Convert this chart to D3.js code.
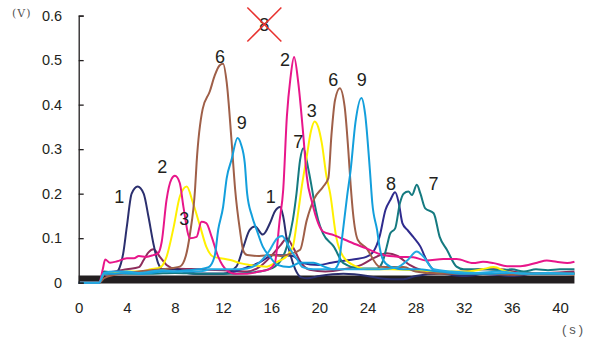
<!DOCTYPE html>
<html>
<head>
<meta charset="utf-8">
<script src="https://cdn.jsdelivr.net/npm/d3@7"></script>
<style>
  body { margin: 0; background: #fff; }
  text { font-family: "Liberation Sans", Arial, sans-serif; fill: #231f20; }
</style>
</head>
<body>
<div id="app"></div>
<script>
// x ticks (s) and y ticks (V)
const xTicks = [0, 4, 8, 12, 16, 20, 24, 28, 32, 36, 40]
const yTicks = [0, 0.1, 0.2, 0.3, 0.4, 0.5, 0.6]

// each series: [time s, voltage V]
const s1 = [[0,0],[1.7,0],[2.1,0.02],[3,0.02],[3.3,0.028],[3.7,0.066],[4.0,0.126],[4.4,0.2],[4.9,0.216],[5.4,0.2],[5.8,0.148],[6.2,0.089],[6.6,0.044],[7,0.03],[8,0.03],[9,0.025],[10,0.02],[11,0.02],[12,0.02],[13.1,0.036],[13.7,0.081],[14.2,0.118],[14.65,0.126],[15.3,0.108],[15.9,0.134],[16.3,0.16],[16.75,0.17],[17.0,0.148],[17.3,0.096],[17.6,0.062],[18.0,0.03],[18.5,0.012],[19,0.01],[20,0.015],[22,0.02],[24,0.015],[25,0.01],[26,0.008],[27,0.008],[28,0.015],[30,0.02],[32,0.015],[34,0.02],[36,0.015],[38,0.02],[40,0.02],[41.2,0.02]]
const s2 = [[0,0],[1.7,0],[2.0,0.03],[2.2,0.052],[2.6,0.045],[3.2,0.048],[4,0.055],[4.6,0.055],[5,0.06],[5.6,0.058],[6.2,0.062],[6.6,0.066],[6.9,0.092],[7.3,0.186],[7.7,0.232],[8.0,0.24],[8.4,0.224],[8.7,0.171],[9.25,0.1],[9.8,0.103],[10.2,0.137],[10.6,0.134],[11.05,0.103],[11.6,0.058],[12.3,0.028],[13,0.02],[14,0.02],[15,0.025],[15.8,0.03],[16.3,0.044],[16.7,0.14],[17.0,0.21],[17.3,0.373],[17.6,0.46],[17.9,0.507],[18.25,0.449],[18.67,0.33],[18.95,0.24],[19.4,0.18],[19.9,0.134],[20.3,0.115],[21.2,0.107],[22.5,0.092],[23.9,0.077],[25.3,0.062],[26.7,0.058],[27.8,0.057],[28.9,0.05],[30.3,0.053],[31.4,0.053],[32.8,0.044],[33.6,0.047],[34.5,0.044],[35.6,0.037],[36.7,0.037],[38.1,0.045],[38.9,0.05],[39.7,0.047],[40.6,0.044],[41.2,0.047]]
const s3 = [[0,0],[1.7,0],[2.1,0.02],[3,0.022],[4,0.025],[5,0.025],[6,0.03],[6.8,0.035],[7.3,0.058],[7.9,0.126],[8.4,0.193],[8.98,0.216],[9.5,0.179],[10.1,0.126],[10.6,0.081],[11.2,0.058],[11.8,0.055],[12.6,0.051],[13.4,0.044],[14.2,0.04],[15.6,0.036],[16.5,0.047],[17.3,0.06],[17.8,0.081],[18.2,0.15],[18.5,0.209],[18.95,0.283],[19.3,0.34],[19.6,0.362],[19.9,0.35],[20.2,0.314],[20.6,0.238],[20.9,0.2],[21.4,0.103],[22,0.058],[23.1,0.036],[24,0.03],[26,0.03],[28,0.028],[30,0.025],[32,0.025],[33.5,0.03],[34.5,0.035],[35.5,0.025],[37,0.02],[39,0.02],[41.2,0.02]]
const s4 = [[0,0],[1.7,0],[2.1,0.02],[3,0.025],[4,0.03],[5,0.035],[5.4,0.051],[5.8,0.068],[6.2,0.075],[6.75,0.058],[7.3,0.04],[8,0.032],[10,0.03],[12,0.028],[14,0.025],[15,0.035],[16,0.06],[16.8,0.085],[17.3,0.1],[17.8,0.08],[18.5,0.044],[19.2,0.029],[20.5,0.025],[22,0.03],[23.5,0.04],[24.5,0.055],[25.6,0.066],[26.5,0.06],[27.5,0.04],[28.5,0.028],[30,0.022],[32,0.025],[33.5,0.03],[35,0.03],[37,0.022],[39,0.022],[41.2,0.025]]
const s5 = [[0,0],[1.7,0],[2.1,0.022],[3,0.025],[4,0.025],[5,0.022],[6,0.025],[7,0.028],[8,0.025],[10,0.025],[11,0.03],[12,0.03],[13,0.03],[14,0.032],[15,0.045],[15.8,0.07],[16.5,0.1],[16.9,0.105],[17.3,0.09],[17.6,0.074],[18.1,0.055],[18.6,0.035],[19.5,0.03],[21,0.03],[23,0.03],[25,0.03],[26.5,0.035],[27.3,0.05],[28.1,0.07],[28.6,0.06],[29.5,0.03],[31,0.025],[33,0.022],[35,0.025],[37,0.02],[39,0.022],[41.2,0.02]]
const s6 = [[0,0],[1.7,0],[2.1,0.01],[3,0.018],[4,0.022],[5,0.025],[6,0.028],[7,0.03],[7.8,0.033],[8.4,0.036],[8.9,0.06],[9.25,0.11],[9.67,0.21],[9.8,0.27],[10.3,0.39],[10.9,0.43],[11.3,0.465],[11.7,0.488],[12.0,0.492],[12.3,0.45],[12.7,0.32],[13.0,0.21],[13.4,0.118],[13.7,0.07],[14,0.062],[15,0.06],[16,0.062],[16.8,0.06],[17.6,0.065],[18.4,0.074],[18.95,0.14],[19.6,0.19],[20.3,0.215],[20.75,0.235],[21.0,0.33],[21.3,0.41],[21.7,0.437],[22.1,0.396],[22.4,0.3],[22.6,0.22],[22.8,0.156],[23.2,0.096],[23.9,0.078],[25,0.036],[26,0.035],[27,0.035],[28,0.025],[30,0.02],[32,0.02],[34,0.02],[36,0.018],[38,0.02],[40,0.02],[41.2,0.018]]
const s7 = [[0,0],[1.7,0],[2.1,0.025],[3,0.022],[4,0.02],[6,0.02],[8,0.022],[10,0.02],[12,0.02],[14,0.022],[15,0.025],[16.3,0.036],[17.3,0.081],[17.8,0.141],[18.1,0.2],[18.4,0.276],[18.67,0.302],[19.1,0.253],[19.4,0.209],[19.5,0.193],[19.9,0.141],[20.3,0.111],[21.2,0.081],[22,0.044],[23.4,0.032],[24.8,0.032],[25.3,0.05],[25.6,0.081],[25.9,0.111],[26.3,0.122],[26.7,0.179],[27,0.2],[27.4,0.205],[27.7,0.197],[28.1,0.22],[28.4,0.2],[28.8,0.167],[29.5,0.156],[30.0,0.103],[30.6,0.074],[31.4,0.036],[32,0.03],[34,0.03],[35,0.028],[36,0.03],[37,0.025],[38,0.03],[39,0.028],[40,0.03],[41.2,0.03]]
const s8 = [[0,0],[1.7,0],[2.1,0.018],[3,0.02],[4,0.022],[6,0.025],[7,0.03],[8,0.03],[9,0.022],[10,0.02],[12,0.02],[13,0.025],[14,0.035],[15,0.045],[16.2,0.062],[17.8,0.06],[18.5,0.045],[20,0.04],[21,0.045],[22.5,0.051],[23.9,0.058],[24.5,0.07],[25,0.103],[25.5,0.164],[25.9,0.186],[26.3,0.203],[26.6,0.179],[26.9,0.134],[27.3,0.119],[27.8,0.103],[28.4,0.081],[28.9,0.051],[29.5,0.029],[31,0.02],[33,0.02],[35,0.018],[37,0.02],[39,0.02],[41.2,0.022]]
const s9 = [[0,0],[1.7,0],[2.1,0.02],[3,0.02],[4,0.022],[5,0.02],[6,0.022],[7,0.025],[8,0.025],[9,0.028],[10,0.03],[10.8,0.035],[11.3,0.06],[11.6,0.12],[12.0,0.17],[12.3,0.235],[12.7,0.276],[13.2,0.325],[13.5,0.31],[13.8,0.269],[14.0,0.2],[14.4,0.15],[14.8,0.118],[15.3,0.081],[15.9,0.058],[16.5,0.04],[17.5,0.035],[18.4,0.045],[19.5,0.045],[20.5,0.035],[21.2,0.03],[21.6,0.044],[21.9,0.103],[22.3,0.193],[22.6,0.253],[23.0,0.36],[23.5,0.415],[23.8,0.38],[24.2,0.253],[24.4,0.179],[24.8,0.118],[25,0.081],[25.3,0.051],[25.9,0.036],[27,0.03],[28,0.03],[30,0.025],[32,0.02],[34,0.02],[36,0.022],[38,0.02],[40,0.02],[41.2,0.02]]
// dark band of near-zero traces along the bottom
const band = [[0,0.007],[41.2,0.007]]

// peak labels: text, time, voltage
const labelText = ["1", "2", "3", "6", "9", "1", "2", "7", "3", "6", "9", "8", "7"]
const labelT = [3.37, 6.95, 8.78, 11.75, 13.55, 15.96, 17.15, 18.25, 19.37, 21.16, 23.52, 25.96, 29.48]
const labelV = [0.193, 0.261, 0.143, 0.508, 0.359, 0.193, 0.501, 0.317, 0.385, 0.456, 0.456, 0.222, 0.222]
// the crossed out "8"
const crossed = { text: "8", t: 15.43, v: 0.58 }

const series = [
  { data: s4, color: "#8e2d5c" },
  { data: s8, color: "#2f2b8e" },
  { data: s1, color: "#2b2f6e" },
  { data: s7, color: "#157a80" },
  { data: s3, color: "#fff000" },
  { data: s6, color: "#9f5f48" },
  { data: s2, color: "#e8168a" },
  { data: s9, color: "#139fdc" },
  { data: s5, color: "#22aae2" },
]

const width = 592, height = 338

const svg = d3.select("#app")
  .append("svg")
    .attr("width", width)
    .attr("height", height)

const x = d3.scaleLinear().domain([0, 40]).range([78.7, 560])
const y = d3.scaleLinear().domain([0, 0.6]).range([282.7, 15.6])

const line = d3.line()
  .x(d => x(d[0]))
  .y(d => y(d[1]))
  .curve(d3.curveMonotoneX)

svg.append("path")
  .datum(band)
  .attr("d", line)
  .attr("fill", "none")
  .attr("stroke", "#231f20")
  .attr("stroke-width", 8)

svg.append("g")
  .selectAll("path")
  .data(series)
  .join("path")
    .attr("d", d => line(d.data))
    .attr("fill", "none")
    .attr("stroke", d => d.color)
    .attr("stroke-width", 2)
    .attr("stroke-linejoin", "round")

// y axis, ticks pointing inward
const yAxis = svg.append("g")
  .attr("transform", `translate(${x(0)},0)`)
  .call(d3.axisLeft(y).tickValues(yTicks).tickSize(-5).tickPadding(16.5)
    .tickFormat(d => d === 0 ? "0" : d3.format(".1f")(d)))
yAxis.selectAll("path, line").attr("stroke", "#231f20").attr("stroke-width", 1.3)
yAxis.selectAll("text").attr("font-size", 14.5).attr("fill", "#231f20")
  .style("font-family", '"Liberation Sans", Arial, sans-serif')

// x axis: labels only
const xAxis = svg.append("g")
  .attr("transform", `translate(0,${y(0)})`)
  .call(d3.axisBottom(x).tickValues(xTicks).tickSize(0).tickPadding(20))
xAxis.select(".domain").remove()
xAxis.selectAll("text").attr("font-size", 15).attr("fill", "#231f20")
  .style("font-family", '"Liberation Sans", Arial, sans-serif')

// unit labels
svg.append("text")
  .attr("x", 12).attr("y", 17)
  .attr("font-size", 11)
  .attr("letter-spacing", 1)
  .style("fill", "#555")
  .style("font-family", '"DejaVu Serif", serif')
  .text("(V)")
svg.append("text")
  .attr("x", 562).attr("y", 334)
  .attr("font-size", 13)
  .attr("letter-spacing", 3)
  .style("fill", "#555")
  .text("(s)")

// peak labels
svg.append("g")
  .selectAll("text")
  .data(labelText)
  .join("text")
    .attr("x", (d, i) => x(labelT[i]))
    .attr("y", (d, i) => y(labelV[i]))
    .attr("text-anchor", "middle")
    .attr("dominant-baseline", "central")
    .attr("font-size", 18)
    .text(d => d)

const cx = x(crossed.t), cy = y(crossed.v)
svg.append("text")
  .attr("x", cx).attr("y", cy)
  .attr("text-anchor", "middle")
  .attr("dominant-baseline", "central")
  .attr("font-size", 18)
  .text(crossed.text)
svg.append("g")
  .attr("stroke", "#e8322f")
  .attr("stroke-width", 1.5)
  .selectAll("line")
  .data([[-17, -17, 17, 17], [17, -17, -17, 17]])
  .join("line")
    .attr("x1", d => cx + d[0]).attr("y1", d => cy + d[1])
    .attr("x2", d => cx + d[2]).attr("y2", d => cy + d[3])
</script>
</body>
</html>
